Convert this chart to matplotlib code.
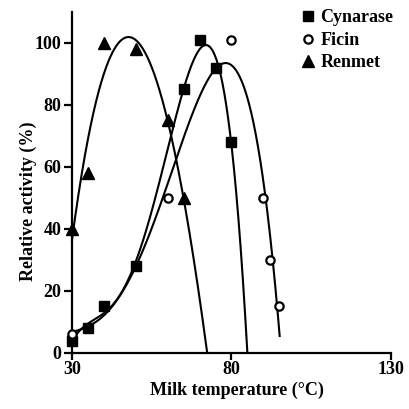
import numpy as np
import matplotlib
matplotlib.use('Agg')
import matplotlib.pyplot as plt

# values
temp_cyn = [30, 35, 40, 50, 65, 70, 75, 80]
act_cyn = [4, 8, 15, 28, 85, 101, 92, 68]
temp_fic = [30, 60, 80, 90, 92, 95]
act_fic = [6, 50, 101, 50, 30, 15]
temp_ren = [30, 35, 40, 50, 60, 65]
act_ren = [40, 58, 100, 98, 75, 50]
# ficin points hidden under the cynarase squares (curve runs through them)
temp_fic_hidden = [35, 40, 50, 75]
act_fic_hidden = [8, 15, 28, 92]

plt.rcParams['font.family'] = ['Liberation Serif', 'DejaVu Serif']
plt.rcParams['font.weight'] = 'bold'
plt.rcParams['axes.labelweight'] = 'bold'
fs = 13

fig = plt.figure(figsize=(4.09, 4.09), dpi=100)
ax = fig.add_axes([0.176, 0.137, 0.78, 0.834])


def trend(x, y, deg, x_end):
    # polynomial trend line, cut where it drops below zero
    p = np.polyfit(x, y, deg)
    xs = np.linspace(min(x), x_end, 2000)
    ys = np.polyval(p, xs)
    neg = np.where(ys < 0)[0]
    if len(neg):
        xs, ys = xs[:neg[0] + 1], ys[:neg[0] + 1]
        ys[-1] = 0
    return xs, ys


curves = [
    trend(temp_cyn, act_cyn, 4, 95),
    trend(temp_fic + temp_fic_hidden, act_fic + act_fic_hidden, 4, 95.1),
    trend(temp_ren, act_ren, 3, 90),
]
for xs, ys in curves:
    ax.plot(xs, ys, color='black', lw=1.5, zorder=2, clip_on=False)

ax.plot(temp_cyn, act_cyn, 's', color='black', ms=7.5, label='Cynarase',
        zorder=3, clip_on=False)
ax.plot(temp_fic, act_fic, 'o', mfc='white', mec='black', mew=1.6, ms=6,
        label='Ficin', zorder=4, clip_on=False)
ax.plot(temp_ren, act_ren, '^', color='black', ms=8, label='Renmet',
        zorder=3, clip_on=False)

ax.set_xlim(30, 130)
ax.set_ylim(0, 110)
ax.set_xticks([30, 80, 130])
ax.set_yticks([0, 20, 40, 60, 80, 100])
ax.spines['top'].set_visible(False)
ax.spines['right'].set_visible(False)
ax.spines['left'].set_linewidth(1.6)
ax.spines['bottom'].set_linewidth(1.6)
ax.tick_params(direction='out', width=1.6, labelsize=fs)
ax.tick_params(axis='x', length=5, pad=0.5)
ax.tick_params(axis='y', length=5.5, pad=2)
ax.set_xlabel('Milk temperature (°C)', fontsize=fs)
ax.set_ylabel('Relative activity (%)', fontsize=fs)
ax.xaxis.set_label_coords(0.516, -0.083)
ax.yaxis.set_label_coords(-0.110, 0.446)

ax.legend(loc='upper left', bbox_to_anchor=(300.5 / 409, 0.977),
          bbox_transform=fig.transFigure, frameon=False, fontsize=fs,
          handlelength=0.8, handletextpad=0.3, labelspacing=0.3,
          borderpad=0, borderaxespad=0)

fig.savefig('out.png', dpi=100)
